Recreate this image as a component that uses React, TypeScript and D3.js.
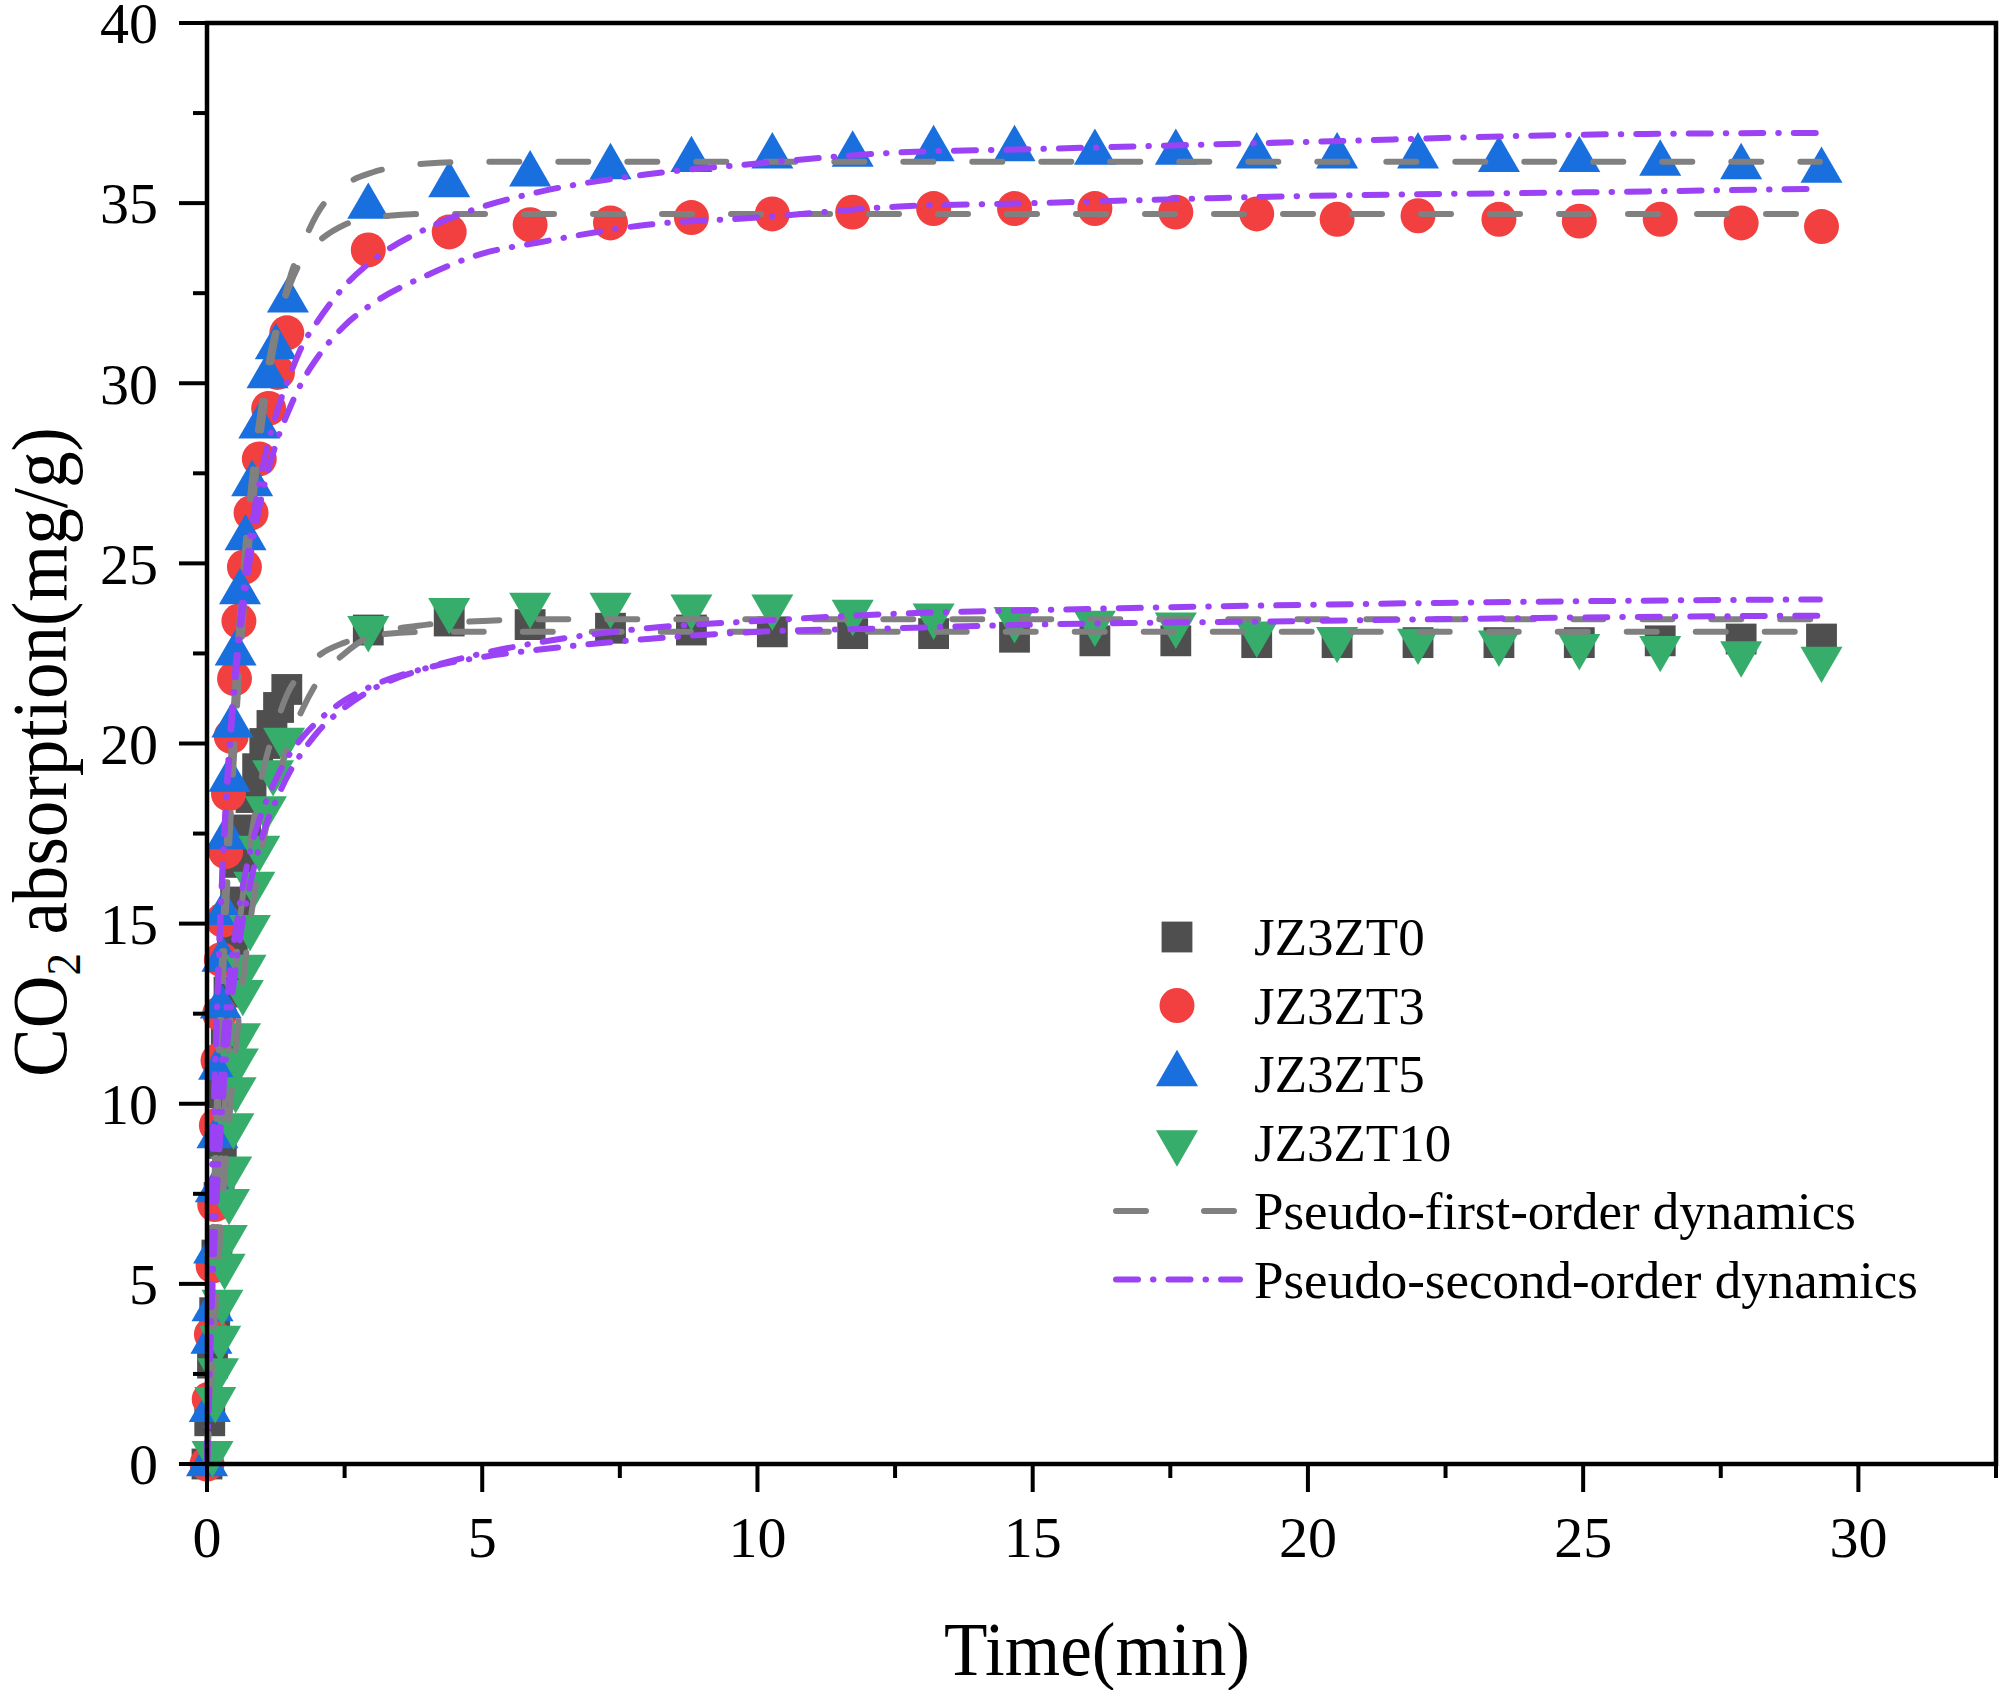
import React, { useEffect, useRef } from 'react';
import * as d3 from 'd3';

// sampling times (min)
const lateTimes = [2.93, 4.4, 5.87, 7.33, 8.8, 10.27, 11.73, 13.2, 14.67, 16.13, 17.6, 19.07, 20.53, 22.0, 23.47, 24.93, 26.4, 27.87, 29.33];

const earlyTimesT0 = [0, 0.05, 0.1, 0.14, 0.18, 0.22, 0.26, 0.3, 0.35, 0.4, 0.46, 0.52, 0.6, 0.7, 0.8, 0.92, 1.05, 1.18, 1.3, 1.45];
const earlyT0 = [0, 1.2, 2.8, 4.2, 5.8, 7.4, 8.9, 10.3, 11.8, 13.1, 14.4, 15.6, 16.7, 17.6, 18.5, 19.3, 20.0, 20.5, 21.0, 21.5];
const lateT0 = [23.15, 23.4, 23.3, 23.2, 23.15, 23.1, 23.05, 23.05, 22.95, 22.85, 22.85, 22.8, 22.8, 22.8, 22.8, 22.8, 22.85, 22.9, 22.9];

const earlyTimesT3 = [0, 0.04, 0.08, 0.11, 0.14, 0.17, 0.2, 0.23, 0.26, 0.29, 0.34, 0.39, 0.44, 0.5, 0.58, 0.68, 0.8, 0.95, 1.12, 1.28, 1.45];
const earlyT3 = [0, 1.8, 3.6, 5.5, 7.2, 9.4, 11.2, 12.5, 14.0, 15.1, 17.0, 18.6, 20.2, 21.8, 23.4, 24.9, 26.4, 27.9, 29.3, 30.3, 31.4];
const lateT3 = [33.7, 34.2, 34.4, 34.45, 34.6, 34.7, 34.75, 34.85, 34.85, 34.85, 34.75, 34.7, 34.55, 34.65, 34.55, 34.5, 34.55, 34.45, 34.35];

const earlyTimesT5 = [0, 0.05, 0.08, 0.1, 0.13, 0.16, 0.19, 0.22, 0.25, 0.28, 0.31, 0.36, 0.41, 0.46, 0.52, 0.6, 0.7, 0.82, 0.95, 1.1, 1.25, 1.47];
const earlyT5 = [0, 1.5, 3.4, 4.3, 5.9, 7.6, 9.1, 11.0, 12.7, 14.0, 15.3, 17.4, 19.0, 20.5, 22.5, 24.2, 25.7, 27.2, 28.8, 30.2, 31.0, 32.3];
const lateT5 = [34.9, 35.5, 35.8, 36.0, 36.2, 36.3, 36.35, 36.5, 36.5, 36.4, 36.4, 36.3, 36.3, 36.3, 36.2, 36.2, 36.1, 36.0, 35.9];

const earlyTimesT10 = [0.1, 0.15, 0.2, 0.24, 0.28, 0.32, 0.36, 0.4, 0.44, 0.48, 0.52, 0.56, 0.6, 0.65, 0.7, 0.78, 0.86, 0.95, 1.07, 1.2, 1.4];
const earlyT10 = [0.3, 1.8, 2.6, 3.5, 4.5, 5.5, 6.3, 7.3, 8.2, 9.4, 10.4, 11.2, 11.9, 13.1, 13.8, 14.9, 16.1, 17.1, 18.2, 19.2, 20.1];
const lateT10 = [23.2, 23.7, 23.85, 23.85, 23.8, 23.8, 23.65, 23.55, 23.45, 23.35, 23.3, 23.05, 22.9, 22.85, 22.8, 22.7, 22.65, 22.5, 22.35];

// fitted curves
const fitTimes = [0, 0.1, 0.2, 0.3, 0.4, 0.5, 0.6, 0.8, 1.0, 1.25, 1.5, 1.75, 2.0, 2.5, 3, 4, 5, 6, 8, 10, 12.5, 15, 20, 25, 29.3];
const pfoT0 = [0, 3.7, 6.9, 9.5, 11.7, 13.5, 15.1, 17.4, 19.1, 20.5, 21.5, 22.0, 22.4, 22.8, 23.0, 23.1, 23.1, 23.1, 23.1, 23.1, 23.1, 23.1, 23.1, 23.1, 23.1];
const pfoT3 = [0, 6.0, 11.0, 15.1, 18.5, 21.3, 23.6, 27.1, 29.5, 31.5, 32.7, 33.5, 33.9, 34.4, 34.6, 34.7, 34.7, 34.7, 34.7, 34.7, 34.7, 34.7, 34.7, 34.7, 34.7];
const pfoT5 = [0, 5.3, 9.9, 13.8, 17.1, 19.9, 22.3, 26.1, 28.9, 31.3, 32.9, 33.9, 34.7, 35.5, 35.85, 36.1, 36.15, 36.15, 36.15, 36.15, 36.15, 36.15, 36.15, 36.15, 36.15];
const pfoT10 = [0, 2.9, 5.4, 7.6, 9.5, 11.2, 12.7, 15.2, 17.1, 18.8, 20.1, 21.0, 21.7, 22.5, 23.0, 23.3, 23.4, 23.45, 23.45, 23.45, 23.45, 23.45, 23.45, 23.45, 23.45];
const psoT0 = [0, 5.8, 9.3, 11.7, 13.4, 14.6, 15.6, 17.1, 18.1, 19.0, 19.7, 20.2, 20.6, 21.2, 21.6, 22.1, 22.4, 22.6, 22.9, 23.1, 23.2, 23.3, 23.4, 23.5, 23.55];
const psoT3 = [0, 8.3, 13.4, 17.0, 19.5, 21.5, 23.0, 25.3, 26.9, 28.3, 29.3, 30.1, 30.7, 31.6, 32.2, 33.0, 33.6, 33.9, 34.4, 34.6, 34.9, 35.0, 35.2, 35.3, 35.4];
const psoT5 = [0, 8.2, 13.4, 17.1, 19.8, 21.8, 23.4, 25.9, 27.6, 29.1, 30.2, 31.1, 31.7, 32.7, 33.4, 34.3, 34.9, 35.3, 35.8, 36.1, 36.4, 36.5, 36.7, 36.9, 36.95];
const psoT10 = [0, 4.9, 8.1, 10.4, 12.2, 13.5, 14.6, 16.2, 17.4, 18.4, 19.2, 19.8, 20.3, 21.0, 21.5, 22.1, 22.5, 22.8, 23.2, 23.4, 23.6, 23.7, 23.85, 23.95, 24.0];

const xMajor = [0, 5, 10, 15, 20, 25, 30];
const xMinor = [2.5, 7.5, 12.5, 17.5, 22.5, 27.5, 32.5];
const yMajor = [0, 5, 10, 15, 20, 25, 30, 35, 40];
const yMinor = [2.5, 7.5, 12.5, 17.5, 22.5, 27.5, 32.5, 37.5];

const seriesNames = ['JZ3ZT0', 'JZ3ZT3', 'JZ3ZT5', 'JZ3ZT10'];
const fitNames = ['Pseudo-first-order dynamics', 'Pseudo-second-order dynamics'];

const FONT = '"Liberation Serif", "Times New Roman", serif';

const App: React.FC = () => {
  const svgRef = useRef<SVGSVGElement | null>(null);

  useEffect(() => {
    const svgEl = svgRef.current;
    if (!svgEl) return;
    const svg = d3.select(svgEl);
    svg.selectAll('*').remove();

    const x = d3.scaleLinear().domain([0, 32.5]).range([207, 1996]);
    const y = d3.scaleLinear().domain([0, 40]).range([1464, 23]);

    const markers = [
      { t: [...earlyTimesT0, ...lateTimes], v: [...earlyT0, ...lateT0], type: d3.symbolSquare, size: 950, rot: 0, color: '#4f4f4f' },
      { t: [...earlyTimesT3, ...lateTimes], v: [...earlyT3, ...lateT3], type: d3.symbolCircle, size: 960, rot: 0, color: '#f23f3f' },
      { t: [...earlyTimesT5, ...lateTimes], v: [...earlyT5, ...lateT5], type: d3.symbolTriangle, size: 765, rot: 0, color: '#1a6fdf' },
      { t: [...earlyTimesT10, ...lateTimes], v: [...earlyT10, ...lateT10], type: d3.symbolTriangle, size: 765, rot: 180, color: '#37ad6b' },
    ];

    const plot = svg.append('g');
    markers.forEach((m) => {
      const sym = d3.symbol().type(m.type).size(m.size)();
      plot.append('g').selectAll('path').data(m.t.map((t, i) => [t, m.v[i]])).enter().append('path')
        .attr('d', sym)
        .attr('fill', m.color)
        .attr('transform', (d) => `translate(${x(d[0])},${y(d[1])}) rotate(${m.rot})`);
    });

    const line = d3.line<number>().x((_, i) => x(fitTimes[i])).y((d) => y(d)).curve(d3.curveMonotoneX);
    const grayDash = '30,39';
    const purpleDash = '22,15,0.5,15';
    [pfoT0, pfoT3, pfoT5, pfoT10].forEach((f) => {
      plot.append('path').attr('d', line(f)).attr('fill', 'none').attr('stroke', '#808080')
        .attr('stroke-width', 6).attr('stroke-linecap', 'round').attr('stroke-dasharray', grayDash);
    });
    [psoT0, psoT3, psoT5, psoT10].forEach((f) => {
      plot.append('path').attr('d', line(f)).attr('fill', 'none').attr('stroke', '#9b42f5')
        .attr('stroke-width', 6).attr('stroke-linecap', 'round').attr('stroke-dasharray', purpleDash);
    });

    // frame and ticks
    const ax = svg.append('g').attr('stroke', '#000');
    const [x0, x1] = x.range();
    const [y0, y1] = y.range();
    ax.append('rect').attr('x', x0).attr('y', y1).attr('width', x1 - x0).attr('height', y0 - y1)
      .attr('fill', 'none').attr('stroke-width', 4.5);
    xMajor.forEach((v) => ax.append('line').attr('x1', x(v)).attr('x2', x(v)).attr('y1', y0).attr('y2', y0 + 28).attr('stroke-width', 4));
    xMinor.forEach((v) => ax.append('line').attr('x1', x(v)).attr('x2', x(v)).attr('y1', y0).attr('y2', y0 + 14).attr('stroke-width', 4));
    yMajor.forEach((v) => ax.append('line').attr('x1', x0 - 28).attr('x2', x0).attr('y1', y(v)).attr('y2', y(v)).attr('stroke-width', 4));
    yMinor.forEach((v) => ax.append('line').attr('x1', x0 - 14).attr('x2', x0).attr('y1', y(v)).attr('y2', y(v)).attr('stroke-width', 4));

    const txt = svg.append('g').attr('font-family', FONT).attr('fill', '#000');
    xMajor.forEach((v) => txt.append('text').attr('x', x(v)).attr('y', 1557).attr('text-anchor', 'middle').attr('font-size', 58).text(String(v)));
    yMajor.forEach((v) => txt.append('text').attr('x', 158).attr('y', y(v)).attr('dy', '0.35em').attr('text-anchor', 'end').attr('font-size', 58).text(String(v)));

    // axis titles, squeezed to the widths in the picture
    const xt = txt.append('text').attr('text-anchor', 'middle').attr('font-size', 76).text('Time(min)');
    const xw = (xt.node() as SVGTextElement).getComputedTextLength();
    xt.attr('transform', `translate(1097,1675) scale(${306 / xw},1)`);

    const yt = txt.append('text').attr('text-anchor', 'middle').attr('font-size', 78);
    yt.append('tspan').text('CO');
    yt.append('tspan').attr('font-size', 48).attr('dy', 14).text('2');
    yt.append('tspan').attr('dy', -14).text(' absorption(mg/g)');
    const yw = (yt.node() as SVGTextElement).getComputedTextLength();
    yt.attr('transform', `translate(66,752) rotate(-90) scale(${650 / yw},1)`);

    // legend
    const lg = svg.append('g');
    const rowY = [937, 1005.5, 1074, 1142.5, 1211, 1279.5];
    markers.forEach((m, i) => {
      lg.append('path').attr('d', d3.symbol().type(m.type).size(m.size)()).attr('fill', m.color)
        .attr('transform', `translate(1177,${rowY[i]}) rotate(${m.rot})`);
    });
    lg.append('line').attr('x1', 1116).attr('x2', 1237).attr('y1', rowY[4]).attr('y2', rowY[4])
      .attr('stroke', '#808080').attr('stroke-width', 6).attr('stroke-linecap', 'round').attr('stroke-dasharray', '30,58');
    lg.append('line').attr('x1', 1116).attr('x2', 1240).attr('y1', rowY[5]).attr('y2', rowY[5])
      .attr('stroke', '#9b42f5').attr('stroke-width', 6).attr('stroke-linecap', 'round').attr('stroke-dasharray', purpleDash);
    [...seriesNames, ...fitNames].forEach((name, i) => {
      lg.append('text').attr('x', 1254).attr('y', rowY[i] + 18).attr('font-family', FONT).attr('font-size', 53).text(name);
    });
  }, []);

  return (
    <svg ref={svgRef} width={2000} height={1690}
      style={{ position: 'absolute', left: 0, top: 0, background: '#fff' }} />
  );
};

export default App;
